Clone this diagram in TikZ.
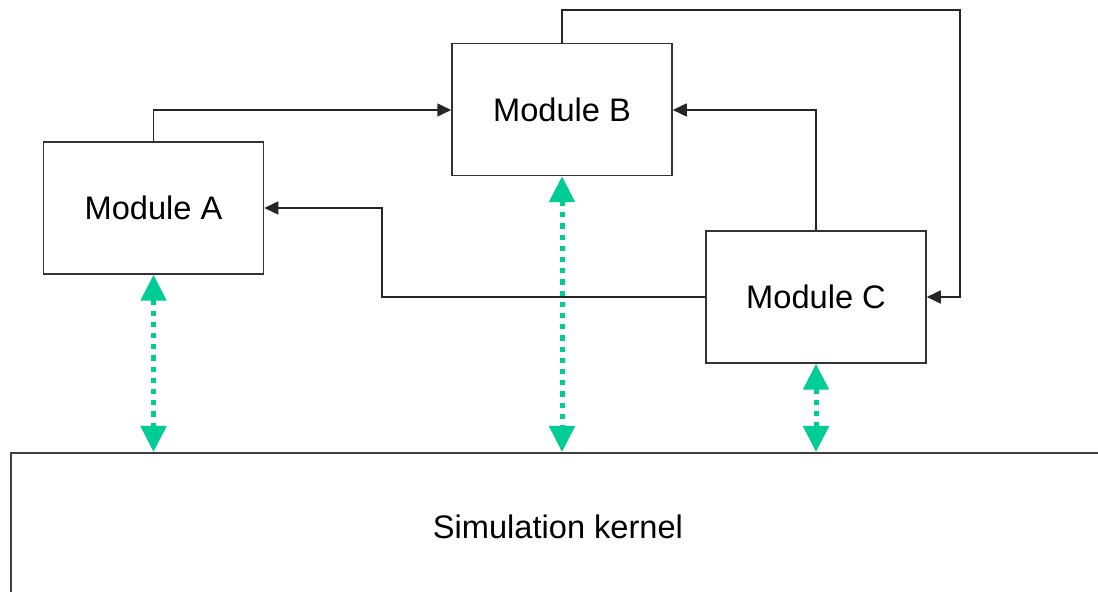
\documentclass[tikz,border=0pt]{standalone}
\usepackage{fontspec}
\setmainfont{Liberation Sans}
\usetikzlibrary{arrows.meta}
\definecolor{mint}{RGB}{0,204,150}
\begin{document}
\begin{tikzpicture}[x=0.5pt,y=-0.5pt,
  modbox/.style={draw=black!80,line width=0.75pt,minimum width=110pt,minimum height=66pt,inner sep=0pt,font=\fontsize{16.3}{19}\selectfont},
  conn/.style={draw=black!85,line width=0.75pt,-{Triangle[length=7pt,width=6.5pt]}},
  kernlink/.style={draw=mint,line width=2.5pt,dash pattern=on 2.6pt off 3pt,{Triangle[length=13pt,width=12.5pt,fill=mint]}-{Triangle[length=13pt,width=12.5pt,fill=mint]},shorten <=0pt,shorten >=0pt}]
\useasboundingbox (0,0) rectangle (1098,592);
\clip (0,0) rectangle (1098,592);
\node[modbox] (A) at (153.5,208) {Module A};
\node[modbox] (B) at (562,109.5) {Module B};
\node[modbox] (C) at (816,297) {Module C};
\node[draw=black!75,line width=1pt,minimum width=547pt,minimum height=74pt,inner sep=0pt,anchor=north west,font=\fontsize{16.3}{19}\selectfont] (K) at (10,452) {Simulation kernel};
\coordinate (ab) at (153.5,110);
\coordinate (cb) at (816,110);
\coordinate (ca) at (382,297);
\coordinate (bt) at (562,10);
\coordinate (bc) at (960,10);
\draw[conn] (A.north) -- (ab) -- (B.west |- ab);
\draw[conn] (C.north) -- (cb) -- (B.east |- cb);
\draw[conn] (C.west) -- (ca) -- (ca |- A.east) -- (A.east);
\draw[conn] (B.north) -- (bt) -- (bc) -- (bc |- C.east) -- (C.east);
\draw[kernlink] (A.south) -- (A.south |- K.north);
\draw[kernlink] (B.south) -- (B.south |- K.north);
\draw[kernlink] (C.south) -- (C.south |- K.north);
\end{tikzpicture}
\end{document}
